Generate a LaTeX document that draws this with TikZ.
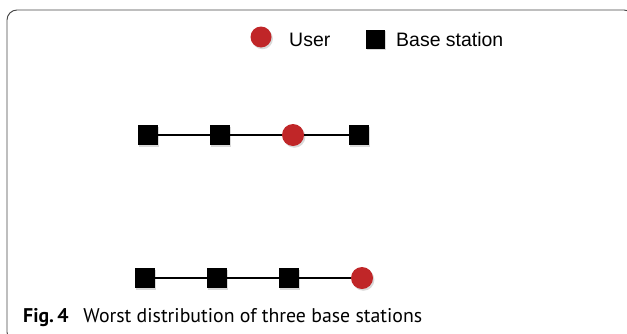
\documentclass[tikz,border=0pt]{standalone}
\usepackage{fontspec}
\setmainfont{Liberation Sans}
\newfontfamily\capfont{PT Sans}
\usetikzlibrary{positioning,shadows}
\definecolor{userred}{RGB}{192,38,40}
\definecolor{framegray}{RGB}{70,70,70}

\tikzset{
  bs/.style={fill=black, minimum size=0.6cm, inner sep=0pt,
    drop shadow={shadow xshift=1.2pt, shadow yshift=-1.5pt, opacity=0.3, fill=gray}},
  usr/.style={circle, fill=userred, minimum size=0.66cm, inner sep=0pt,
    drop shadow={shadow xshift=1.2pt, shadow yshift=-1.5pt, opacity=0.3, fill=gray}},
  link/.style={line width=2.1pt},
  legtext/.style={anchor=base west, inner sep=0pt, font=\fontsize{16.6}{20}\selectfont}
}

\begin{document}
\begin{tikzpicture}[x=0.03cm, y=-0.03cm]
      \useasboundingbox (0,0) rectangle (627,333);
      \clip (0,0) rectangle (627,333);

      % Frame
      \draw[framegray, line width=0.8pt, rounded corners=0.3cm] (7,10) rectangle (634,342);

      % Legend
      \node[usr, minimum size=0.63cm] (legu) at (261,37) {};
      \node[legtext] (legut) at (289,46.7) {User};
      \node[bs, minimum size=0.57cm] (legb) at (375,39) {};
      \node[legtext] (legbt) at (396,46.7) {Base station};

      % Upper row
      \node[bs] (a1) at (148,135) {};
      \node[bs] (a2) at (220,135) {};
      \node[usr] (a3) at (293,135) {};
      \node[bs] (a4) at (359,135) {};
      \draw[link] (a1) -- (a2) -- (a3) -- (a4);

      % Lower row
      \node[bs] (b1) at (144.5,278) {};
      \node[bs] (b2) at (217,278) {};
      \node[bs] (b3) at (289,278) {};
      \node[usr] (b4) at (362,278) {};
      \draw[link] (b1) -- (b2) -- (b3) -- (b4);

      % Caption
      \node[anchor=base west, inner sep=0pt, font=\capfont\fontsize{16.9}{20}\selectfont] (cap) at (23,322)
        {\textbf{Fig.\,4}\hspace{0.75em}Worst distribution of three base stations};

    \end{tikzpicture}
\end{document}
